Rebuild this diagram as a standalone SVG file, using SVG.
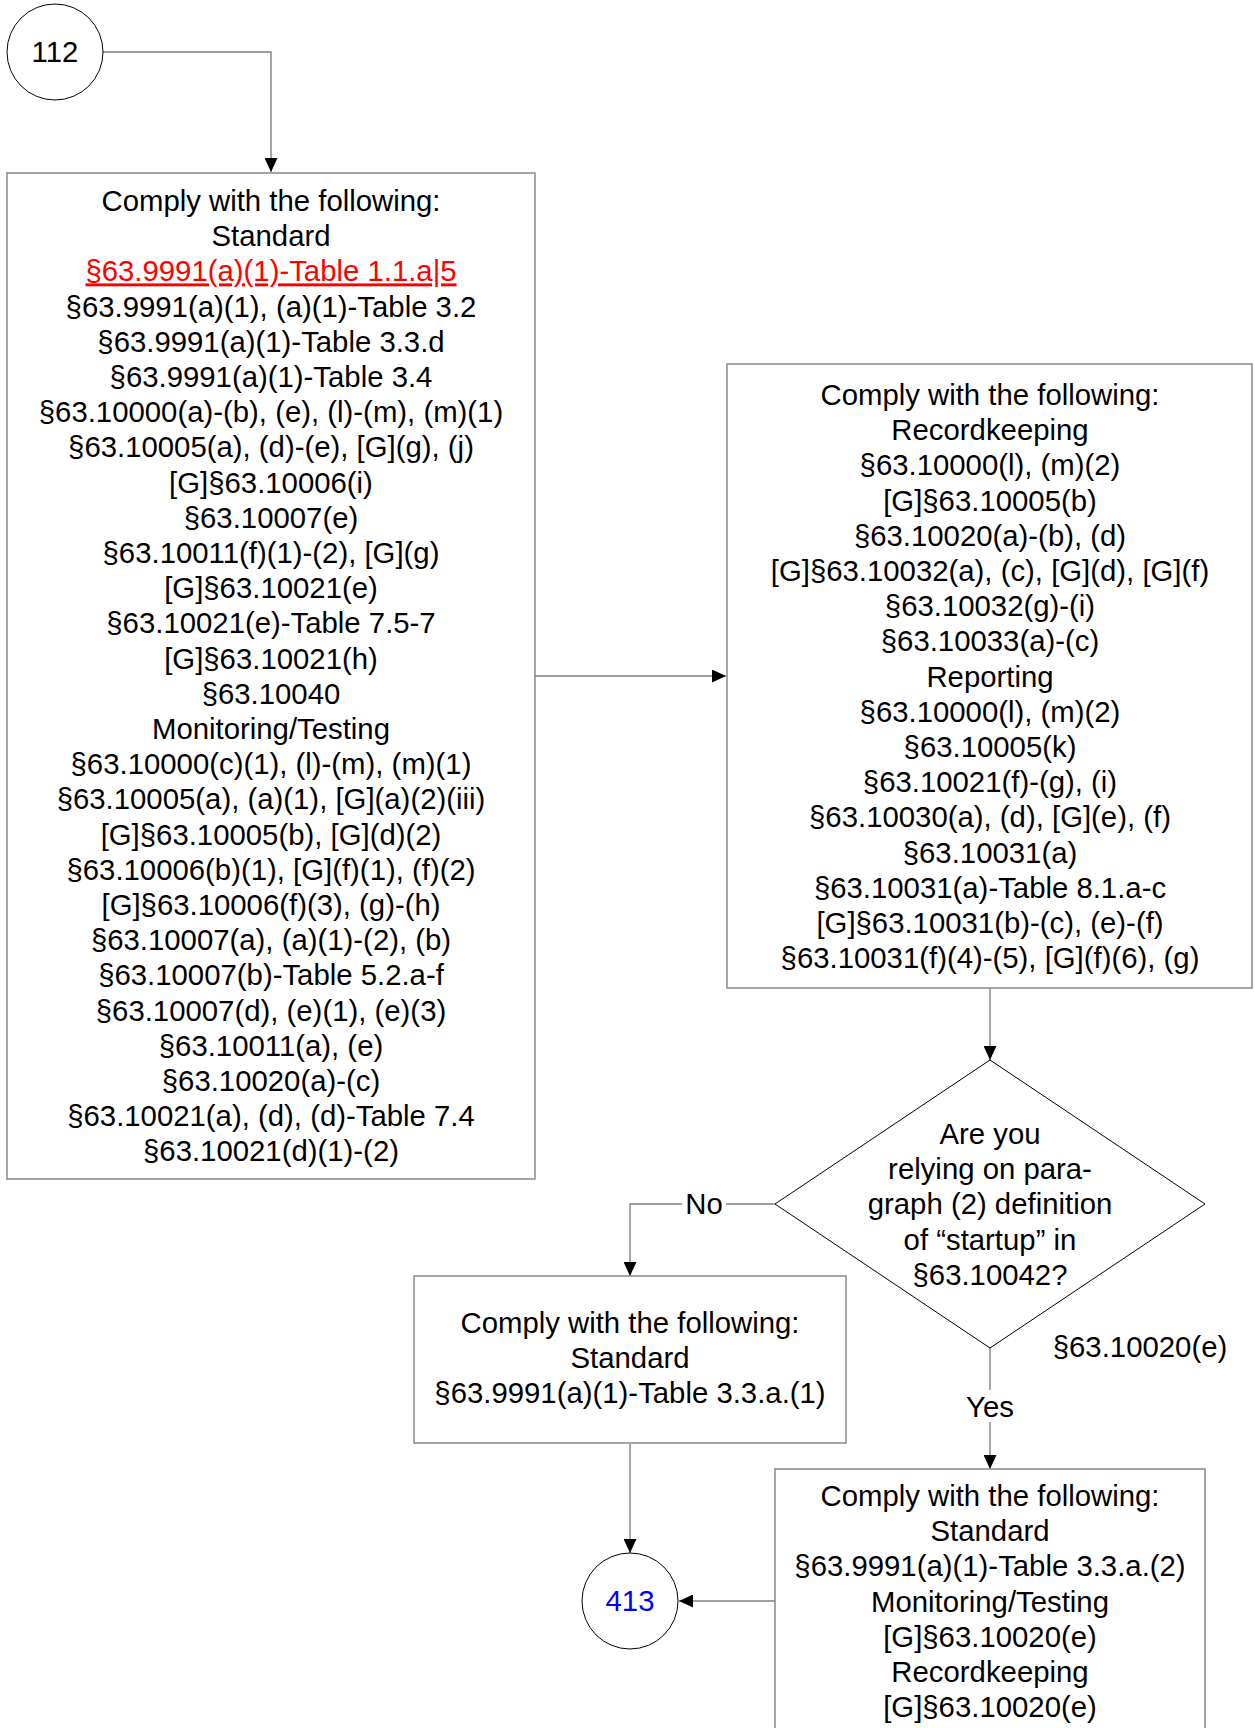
<svg xmlns="http://www.w3.org/2000/svg" width="1255" height="1728" viewBox="0 0 1255 1728">
<style>
.box{fill:#fff;stroke:#808080;stroke-width:1.4}
.shape{fill:#fff;stroke:#000;stroke-width:1}
.t{font-family:"Liberation Sans",Arial,sans-serif;font-size:29.33px;fill:#000;text-anchor:middle}
.conn{fill:none;stroke:#808080;stroke-width:1.4}
.red{fill:#ff0000;text-decoration:underline}
.blue{fill:#0000ff}
</style>
<defs>
<marker id="arr" markerUnits="userSpaceOnUse" markerWidth="14" markerHeight="13" refX="14" refY="6.5" orient="auto">
<path d="M0,0 L14,6.5 L0,13 Z" fill="#000"/>
</marker>
</defs>
<rect width="1255" height="1728" fill="#fff"/>
<g id="connectors">
<path class="conn" d="M102,52 H271 V172" marker-end="url(#arr)"/>
<path class="conn" d="M535,676 H726" marker-end="url(#arr)"/>
<path class="conn" d="M990,988 V1060" marker-end="url(#arr)"/>
<path class="conn" d="M775,1204 H630 V1276" marker-end="url(#arr)"/>
<path class="conn" d="M990,1348 V1469" marker-end="url(#arr)"/>
<path class="conn" d="M630,1444 V1553" marker-end="url(#arr)"/>
<path class="conn" d="M775,1601 H679" marker-end="url(#arr)"/>
<rect x="682" y="1188" width="44" height="30" fill="#fff"/>
<text class="t" x="704" y="1214">No</text>
<rect x="964" y="1390" width="52" height="32" fill="#fff"/>
<text class="t" x="990" y="1417">Yes</text>
<text class="t" x="1140" y="1357">§63.10020(e)</text>
</g>
<g id="n112">
<circle class="shape" cx="55" cy="52" r="48"/>
<text class="t" x="55" y="62">112</text>
</g>
<g id="box1">
<rect class="box" x="7" y="173" width="528" height="1006"/>
<text class="t" x="271" y="211"><tspan x="271">Comply with the following:</tspan><tspan
 x="271" dy="35.2">Standard</tspan><tspan
 x="271" dy="35.2" class="red">§63.9991(a)(1)-Table 1.1.a|5</tspan><tspan
 x="271" dy="35.2">§63.9991(a)(1), (a)(1)-Table 3.2</tspan><tspan
 x="271" dy="35.2">§63.9991(a)(1)-Table 3.3.d</tspan><tspan
 x="271" dy="35.2">§63.9991(a)(1)-Table 3.4</tspan><tspan
 x="271" dy="35.2">§63.10000(a)-(b), (e), (l)-(m), (m)(1)</tspan><tspan
 x="271" dy="35.2">§63.10005(a), (d)-(e), [G](g), (j)</tspan><tspan
 x="271" dy="35.2">[G]§63.10006(i)</tspan><tspan
 x="271" dy="35.2">§63.10007(e)</tspan><tspan
 x="271" dy="35.2">§63.10011(f)(1)-(2), [G](g)</tspan><tspan
 x="271" dy="35.2">[G]§63.10021(e)</tspan><tspan
 x="271" dy="35.2">§63.10021(e)-Table 7.5-7</tspan><tspan
 x="271" dy="35.2">[G]§63.10021(h)</tspan><tspan
 x="271" dy="35.2">§63.10040</tspan><tspan
 x="271" dy="35.2">Monitoring/Testing</tspan><tspan
 x="271" dy="35.2">§63.10000(c)(1), (l)-(m), (m)(1)</tspan><tspan
 x="271" dy="35.2">§63.10005(a), (a)(1), [G](a)(2)(iii)</tspan><tspan
 x="271" dy="35.2">[G]§63.10005(b), [G](d)(2)</tspan><tspan
 x="271" dy="35.2">§63.10006(b)(1), [G](f)(1), (f)(2)</tspan><tspan
 x="271" dy="35.2">[G]§63.10006(f)(3), (g)-(h)</tspan><tspan
 x="271" dy="35.2">§63.10007(a), (a)(1)-(2), (b)</tspan><tspan
 x="271" dy="35.2">§63.10007(b)-Table 5.2.a-f</tspan><tspan
 x="271" dy="35.2">§63.10007(d), (e)(1), (e)(3)</tspan><tspan
 x="271" dy="35.2">§63.10011(a), (e)</tspan><tspan
 x="271" dy="35.2">§63.10020(a)-(c)</tspan><tspan
 x="271" dy="35.2">§63.10021(a), (d), (d)-Table 7.4</tspan><tspan
 x="271" dy="35.2">§63.10021(d)(1)-(2)</tspan></text>
</g>
<g id="box2">
<rect class="box" x="727" y="364" width="525" height="624"/>
<text class="t" x="990" y="405"><tspan x="990">Comply with the following:</tspan><tspan
 x="990" dy="35.2">Recordkeeping</tspan><tspan
 x="990" dy="35.2">§63.10000(l), (m)(2)</tspan><tspan
 x="990" dy="35.2">[G]§63.10005(b)</tspan><tspan
 x="990" dy="35.2">§63.10020(a)-(b), (d)</tspan><tspan
 x="990" dy="35.2">[G]§63.10032(a), (c), [G](d), [G](f)</tspan><tspan
 x="990" dy="35.2">§63.10032(g)-(i)</tspan><tspan
 x="990" dy="35.2">§63.10033(a)-(c)</tspan><tspan
 x="990" dy="35.2">Reporting</tspan><tspan
 x="990" dy="35.2">§63.10000(l), (m)(2)</tspan><tspan
 x="990" dy="35.2">§63.10005(k)</tspan><tspan
 x="990" dy="35.2">§63.10021(f)-(g), (i)</tspan><tspan
 x="990" dy="35.2">§63.10030(a), (d), [G](e), (f)</tspan><tspan
 x="990" dy="35.2">§63.10031(a)</tspan><tspan
 x="990" dy="35.2">§63.10031(a)-Table 8.1.a-c</tspan><tspan
 x="990" dy="35.2">[G]§63.10031(b)-(c), (e)-(f)</tspan><tspan
 x="990" dy="35.2">§63.10031(f)(4)-(5), [G](f)(6), (g)</tspan></text>
</g>
<g id="decision">
<polygon class="shape" points="990,1060 1205,1204 990,1348 775,1204"/>
<text class="t" x="990" y="1144"><tspan x="990">Are you</tspan><tspan
 x="990" dy="35.2">relying on para-</tspan><tspan
 x="990" dy="35.2">graph (2) definition</tspan><tspan
 x="990" dy="35.2">of “startup” in</tspan><tspan
 x="990" dy="35.2">§63.10042?</tspan></text>
</g>
<g id="box3">
<rect class="box" x="414" y="1276" width="432" height="167"/>
<text class="t" x="630" y="1333"><tspan x="630">Comply with the following:</tspan><tspan
 x="630" dy="35.2">Standard</tspan><tspan
 x="630" dy="35.2">§63.9991(a)(1)-Table 3.3.a.(1)</tspan></text>
</g>
<g id="box4">
<rect class="box" x="775" y="1469" width="430" height="300"/>
<text class="t" x="990" y="1506"><tspan x="990">Comply with the following:</tspan><tspan
 x="990" dy="35.2">Standard</tspan><tspan
 x="990" dy="35.2">§63.9991(a)(1)-Table 3.3.a.(2)</tspan><tspan
 x="990" dy="35.2">Monitoring/Testing</tspan><tspan
 x="990" dy="35.2">[G]§63.10020(e)</tspan><tspan
 x="990" dy="35.2">Recordkeeping</tspan><tspan
 x="990" dy="35.2">[G]§63.10020(e)</tspan></text>
</g>
<g id="n413">
<circle class="shape" cx="630" cy="1601" r="48"/>
<text class="t blue" x="630" y="1611">413</text>
</g>
</svg>
